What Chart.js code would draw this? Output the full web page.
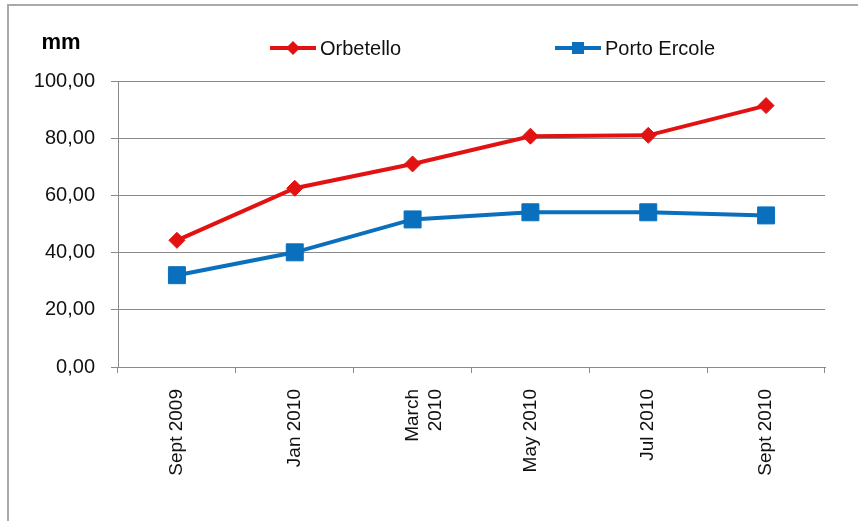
<!DOCTYPE html>
<html>
<head>
<meta charset="utf-8">
<script src="https://cdn.jsdelivr.net/npm/chart.js@4/dist/chart.umd.min.js"></script>
<style>
  html, body { margin: 0; padding: 0; background: #fff; }
  #wrap { width: 858px; height: 521px; position: relative; }
</style>
</head>
<body>
<div id="wrap"><canvas id="rainfall" width="858" height="521"></canvas></div>
<script>
// data
const months = ['Sept 2009', 'Jan 2010', ['March', '2010'], 'May 2010', 'Jul 2010', 'Sept 2010']
const orbetello = [44.3, 62.5, 71.0, 80.7, 81.0, 91.4]
const portoErcole = [32.1, 40.1, 51.6, 54.1, 54.1, 53.0]
const yTicks = [0, 20, 40, 60, 80, 100]

const font = 'Liberation Sans, Arial, sans-serif'
const red = '#e31212'
const blue = '#0a6fbd'
const gridGray = '#8a8a8a'

// legend positions (left end of the sample line)
const legendX = [270, 555]
const legendY = 48

const fmt = v => v.toFixed(2).replace('.', ',')

// frame, unit label and the line+marker legend
const extras = {
  id: 'extras',
  beforeDraw(chart) {
    const ctx = chart.ctx
    ctx.save()
    ctx.fillStyle = '#fff'
    ctx.fillRect(0, 0, chart.width, chart.height)
    ctx.strokeStyle = '#a9a9a9'
    ctx.lineWidth = 2
    ctx.beginPath()
    ctx.moveTo(8, chart.height)
    ctx.lineTo(8, 5)
    ctx.lineTo(chart.width, 5)
    ctx.stroke()
    ctx.restore()
  },
  afterDraw(chart) {
    const ctx = chart.ctx
    ctx.save()
    ctx.fillStyle = '#000'
    ctx.font = 'bold 22px ' + font
    ctx.textAlign = 'center'
    ctx.textBaseline = 'middle'
    ctx.fillText('mm', 61, 43)

    chart.data.datasets.forEach((ds, i) => {
      const x0 = legendX[i]
      const cx = x0 + 23
      ctx.strokeStyle = ds.borderColor
      ctx.fillStyle = ds.borderColor
      ctx.lineWidth = 4
      ctx.beginPath()
      ctx.moveTo(x0, legendY)
      ctx.lineTo(x0 + 46, legendY)
      ctx.stroke()
      ctx.beginPath()
      if (ds.pointStyle === 'rectRot') {
        ctx.moveTo(cx - 7, legendY)
        ctx.lineTo(cx, legendY - 7)
        ctx.lineTo(cx + 7, legendY)
        ctx.lineTo(cx, legendY + 7)
        ctx.closePath()
      } else {
        ctx.rect(cx - 6, legendY - 6, 12, 12)
      }
      ctx.fill()
      ctx.fillStyle = '#111'
      ctx.font = '20px ' + font
      ctx.textAlign = 'left'
      ctx.fillText(ds.label, x0 + 50, legendY + 1)
    })
    ctx.restore()
  }
}

new Chart(document.getElementById('rainfall'), {
  type: 'line',
  data: {
    labels: months,
    datasets: [{
      label: 'Orbetello',
      data: orbetello,
      borderColor: red,
      backgroundColor: red,
      borderWidth: 4,
      pointStyle: 'rectRot',
      pointRadius: 8,
      pointBorderWidth: 1,
      tension: 0
    }, {
      label: 'Porto Ercole',
      data: portoErcole,
      borderColor: blue,
      backgroundColor: blue,
      borderWidth: 4,
      pointStyle: 'rect',
      pointRadius: 12,
      pointBorderWidth: 1,
      tension: 0
    }]
  },
  options: {
    responsive: false,
    animation: false,
    layout: { padding: { top: 81, right: 33, left: 0, bottom: 0 } },
    plugins: {
      legend: { display: false },
      tooltip: { enabled: false }
    },
    scales: {
      x: {
        offset: true,
        afterFit: s => { s.height = 154 },
        grid: { offset: true, drawOnChartArea: false, color: gridGray, tickLength: 6 },
        border: { color: gridGray, width: 1 },
        ticks: {
          autoSkip: false,
          minRotation: 90,
          maxRotation: 90,
          padding: 16,
          color: '#111',
          font: { family: font, size: 19 }
        }
      },
      y: {
        min: yTicks[0],
        max: yTicks[yTicks.length - 1],
        afterFit: s => { s.width = 118 },
        afterBuildTicks: s => { s.ticks = yTicks.map(v => ({ value: v })) },
        grid: { color: gridGray, tickLength: 7 },
        border: { color: gridGray, width: 1 },
        ticks: {
          padding: 16,
          color: '#111',
          font: { family: font, size: 20 },
          callback: v => fmt(v)
        }
      }
    }
  },
  plugins: [extras]
})
</script>
</body>
</html>
